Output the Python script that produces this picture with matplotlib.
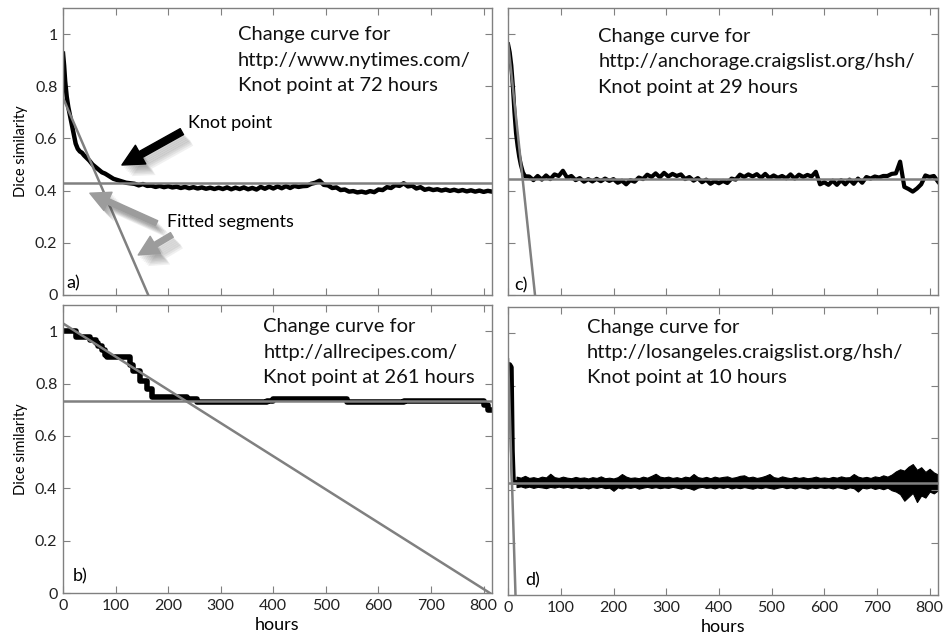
import matplotlib
matplotlib.use('Agg')
import matplotlib.pyplot as plt
import matplotlib.patheffects as pe
import numpy as np

plt.rcParams['font.family'] = ['Lato', 'DejaVu Sans']

# ---- a) http://www.nytimes.com/ ----
a_hours_start = [0, 2, 4, 7, 10, 13, 16, 20, 24, 28, 32, 36, 40, 45, 50, 56, 62,
                 68, 74, 80, 88, 96, 104, 112, 120, 128]
a_sim_start = [0.925, 0.88, 0.82, 0.76, 0.72, 0.69, 0.66, 0.62, 0.58, 0.56, 0.55,
               0.545, 0.535, 0.525, 0.515, 0.50, 0.49, 0.48, 0.47, 0.465, 0.455,
               0.445, 0.44, 0.435, 0.43, 0.428]
# every 8 hours from 136 to 816
a_sim_rest = [0.426, 0.420, 0.425, 0.418, 0.419, 0.414, 0.418, 0.413, 0.417, 0.412,
              0.415, 0.410, 0.414, 0.409, 0.413, 0.408, 0.412, 0.407, 0.411, 0.406,
              0.411, 0.406, 0.412, 0.405, 0.411, 0.406, 0.412, 0.405, 0.410, 0.404,
              0.414, 0.407, 0.415, 0.408, 0.416, 0.409, 0.417, 0.410, 0.418, 0.414,
              0.417, 0.418, 0.426, 0.430, 0.438, 0.422, 0.420, 0.410, 0.412, 0.402,
              0.404, 0.396, 0.398, 0.393, 0.396, 0.392, 0.398, 0.394, 0.404, 0.402,
              0.413, 0.410, 0.421, 0.418, 0.428, 0.416, 0.419, 0.408, 0.413, 0.403,
              0.407, 0.402, 0.405, 0.400, 0.404, 0.399, 0.403, 0.398, 0.402, 0.397,
              0.401, 0.396, 0.400, 0.395, 0.399, 0.396]
a_fit_steep = ([0, 162], [0.755, 0.0])
a_fit_flat = 0.428

# ---- b) http://allrecipes.com/ ----
b_hours = [0, 24, 52, 62, 67, 74, 80, 83, 128, 134, 147, 159, 169, 236, 255, 388,
           400, 540, 648, 800, 808, 816]
b_sim = [1.0, 0.98, 0.965, 0.955, 0.945, 0.93, 0.91, 0.90, 0.873, 0.848, 0.81, 0.78,
         0.75, 0.74, 0.728, 0.734, 0.74, 0.728, 0.734, 0.72, 0.70, 0.70]
b_fit_steep = ([0, 812], [1.03, 0.0])
b_fit_flat = 0.733

# ---- c) http://anchorage.craigslist.org/hsh/ ----
c_hours_start = [0, 3, 6, 9, 12, 15, 18, 21, 24, 28, 32]
c_sim_start = [0.96, 0.93, 0.88, 0.80, 0.70, 0.62, 0.57, 0.53, 0.50, 0.47, 0.455]
# every 8 hours from 40 to 816
c_sim_rest = [0.454, 0.440, 0.456, 0.442, 0.458, 0.444, 0.462, 0.456, 0.476, 0.449,
              0.456, 0.440, 0.448, 0.434, 0.444, 0.435, 0.445, 0.436, 0.446, 0.437,
              0.444, 0.430, 0.438, 0.424, 0.440, 0.434, 0.450, 0.444, 0.461, 0.452,
              0.466, 0.451, 0.468, 0.454, 0.464, 0.456, 0.462, 0.444, 0.452, 0.438,
              0.448, 0.432, 0.442, 0.426, 0.436, 0.428, 0.437, 0.429, 0.446, 0.442,
              0.461, 0.452, 0.462, 0.454, 0.463, 0.449, 0.464, 0.448, 0.458, 0.449,
              0.456, 0.447, 0.462, 0.446, 0.461, 0.452, 0.460, 0.454, 0.472, 0.424,
              0.432, 0.422, 0.438, 0.422, 0.440, 0.424, 0.442, 0.426, 0.446, 0.430,
              0.452, 0.446, 0.454, 0.450, 0.456, 0.456, 0.464, 0.466, 0.511, 0.414,
              0.406, 0.396, 0.408, 0.424, 0.458, 0.452, 0.456, 0.434]
c_fit_steep = ([0, 51], [0.965, 0.0])
c_fit_flat = 0.444

# ---- d) http://losangeles.craigslist.org/hsh/ ----
d_hours_start = [0, 3, 6, 8, 10, 16]
d_sim_start = [0.88, 0.88, 0.87, 0.55, 0.43, 0.43]
# hourly noise envelope, every 8 hours from 16 to 816
d_upper = [0.452, 0.448, 0.455, 0.447, 0.450, 0.446, 0.452, 0.449, 0.463, 0.450, 0.447,
           0.452, 0.448, 0.446, 0.451, 0.447, 0.449, 0.445, 0.450, 0.447, 0.453, 0.446, 0.448, 0.445,
           0.450, 0.462, 0.452, 0.447, 0.449, 0.446, 0.452, 0.448, 0.455, 0.463, 0.452, 0.449,
           0.452, 0.447, 0.450, 0.446, 0.452, 0.449, 0.462, 0.450, 0.447, 0.451, 0.446, 0.452, 0.448,
           0.451, 0.453, 0.447, 0.450, 0.455, 0.457, 0.449, 0.452, 0.447, 0.450, 0.455, 0.462,
           0.450, 0.447, 0.453, 0.449, 0.446, 0.451, 0.447, 0.450, 0.446, 0.448, 0.452, 0.447, 0.449,
           0.446, 0.451, 0.448, 0.453, 0.449, 0.450, 0.462, 0.452, 0.448, 0.451, 0.447, 0.453,
           0.450, 0.457, 0.452, 0.460, 0.472, 0.480, 0.475, 0.490, 0.500, 0.478, 0.488, 0.470,
           0.482, 0.468, 0.460]
d_lower = [0.412, 0.415, 0.410, 0.414, 0.409, 0.413, 0.411, 0.408, 0.413, 0.410, 0.414,
           0.410, 0.413, 0.409, 0.412, 0.408, 0.411, 0.407, 0.412, 0.409, 0.413, 0.408, 0.410, 0.398,
           0.411, 0.407, 0.412, 0.409, 0.413, 0.406, 0.410, 0.413, 0.409, 0.412, 0.408, 0.411,
           0.409, 0.413, 0.410, 0.406, 0.411, 0.408, 0.402, 0.410, 0.413, 0.409, 0.411, 0.407, 0.412,
           0.409, 0.413, 0.407, 0.411, 0.408, 0.412, 0.409, 0.406, 0.411, 0.408, 0.412, 0.409,
           0.406, 0.410, 0.413, 0.408, 0.411, 0.407, 0.412, 0.409, 0.406, 0.411, 0.408, 0.412, 0.409,
           0.411, 0.407, 0.412, 0.409, 0.405, 0.411, 0.408, 0.395, 0.410, 0.407, 0.411, 0.405,
           0.409, 0.404, 0.410, 0.400, 0.395, 0.385, 0.360, 0.375, 0.390, 0.355, 0.380, 0.372,
           0.395, 0.388, 0.400]
d_fit_steep = ([0, 14], [0.90, 0.0])
d_fit_flat = 0.428

titles = ['Change curve for\nhttp://www.nytimes.com/\nKnot point at 72 hours',
          'Change curve for\nhttp://allrecipes.com/\nKnot point at 261 hours',
          'Change curve for\nhttp://anchorage.craigslist.org/hsh/\nKnot point at 29 hours',
          'Change curve for\nhttp://losangeles.craigslist.org/hsh/\nKnot point at 10 hours']

a_x = np.concatenate([a_hours_start, np.arange(136, 817, 8)])
a_y = np.concatenate([a_sim_start, a_sim_rest])
c_x = np.concatenate([c_hours_start, np.arange(40, 817, 8)])
c_y = np.concatenate([c_sim_start, c_sim_rest])
d_band_x = np.arange(16, 817, 8)

GRAY = '#808080'
fig = plt.figure(figsize=(9.48, 6.37), dpi=100)
ax_a = fig.add_axes([0.0665, 0.537, 0.4525, 0.4505])
ax_b = fig.add_axes([0.0665, 0.069, 0.4525, 0.452])
ax_c = fig.add_axes([0.536, 0.537, 0.4535, 0.4505])
ax_d = fig.add_axes([0.536, 0.066, 0.4535, 0.452])


def setup(ax, xlab, ylab):
    ax.set_xlim(0, 816)
    ax.set_ylim(0, 1.1)
    ax.set_xticks(range(0, 801, 100))
    ax.set_yticks([0, 0.2, 0.4, 0.6, 0.8, 1.0])
    ax.set_yticklabels(['0', '0.2', '0.4', '0.6', '0.8', '1'])
    ax.tick_params(direction='in', top=True, right=True, length=5, width=0.8,
                   color=GRAY, labelsize=11.5, labelcolor='#222222',
                   labelbottom=xlab, labelleft=ylab, pad=4)
    for s in ax.spines.values():
        s.set_color(GRAY)
        s.set_linewidth(1.0)
    if xlab:
        ax.set_xlabel('hours', fontsize=13, labelpad=3)
    if ylab:
        ax.set_ylabel('Dice similarity', fontsize=10.5, labelpad=5)


for ax, xl, yl in [(ax_a, False, True), (ax_b, True, True), (ax_c, False, False), (ax_d, True, False)]:
    setup(ax, xl, yl)

# data curves
ax_a.plot(a_x, a_y, color='black', lw=3.2, solid_joinstyle='round')
ax_b.plot(b_hours, b_sim, color='black', lw=4, drawstyle='steps-post')
ax_c.plot(c_x, c_y, color='black', lw=3.0)
ax_d.plot(d_hours_start, d_sim_start, color='black', lw=3.5)
ax_d.fill_between(d_band_x, d_lower, d_upper, color='black', lw=0.8, edgecolor='black')

# fitted segments
for ax, steep, flat in [(ax_a, a_fit_steep, a_fit_flat), (ax_b, b_fit_steep, b_fit_flat),
                        (ax_c, c_fit_steep, c_fit_flat), (ax_d, d_fit_steep, d_fit_flat)]:
    ax.plot(steep[0], steep[1], color=GRAY, lw=1.8, zorder=3)
    ax.axhline(flat, color=GRAY, lw=1.8, zorder=3)

# header texts
hdr = dict(fontsize=14.5, va='center', linespacing=1.6, color='#111111')
ax_a.text(333, 0.90, titles[0], **hdr)
ax_b.text(381, 0.92, titles[1], **hdr)
ax_c.text(171, 0.894, titles[2], **hdr)
ax_d.text(149, 0.926, titles[3], **hdr)

# panel labels
ax_a.text(7, 0.046, 'a)', fontsize=13, va='center')
ax_b.text(18, 0.062, 'b)', fontsize=13, va='center')
ax_c.text(11, 0.038, 'c)', fontsize=13, va='center')
ax_d.text(32, 0.057, 'd)', fontsize=13, va='center')

# annotations in panel a, with a soft drop shadow
shadow = [pe.SimplePatchShadow(offset=(o, -o - 1), shadow_rgbFace='#333333', alpha=0.07)
          for o in (1, 2, 3, 4, 5, 6, 7)] + [pe.Normal()]
style = 'simple,head_length=1.1,head_width=1.1,tail_width=0.35'
ax_a.annotate('', xy=(112, 0.498), xytext=(226, 0.626),
              arrowprops=dict(arrowstyle=style, color='black', mutation_scale=14,
                              shrinkA=0, shrinkB=0, path_effects=shadow))
ax_a.text(238, 0.66, 'Knot point', fontsize=13, va='center')

style_g = 'simple,head_length=1.1,head_width=1.1,tail_width=0.3'
ax_a.annotate('', xy=(51, 0.39), xytext=(178, 0.275),
              arrowprops=dict(arrowstyle=style_g, color='#9c9c9c', mutation_scale=13,
                              shrinkA=0, shrinkB=0, path_effects=shadow))
ax_a.annotate('', xy=(143, 0.153), xytext=(207, 0.23),
              arrowprops=dict(arrowstyle=style_g, color='#9c9c9c', mutation_scale=13,
                              shrinkA=0, shrinkB=0, path_effects=shadow))
ax_a.text(198, 0.28, 'Fitted segments', fontsize=13, va='center')

fig.savefig('out.png', dpi=100)
